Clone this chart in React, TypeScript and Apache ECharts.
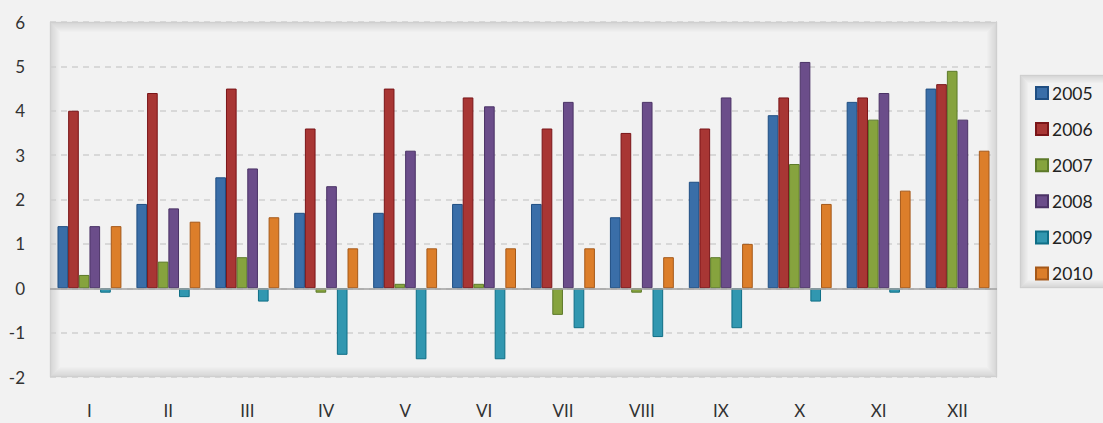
import React, { useEffect, useRef } from "react";
import * as echarts from "echarts";

const categories = ["I", "II", "III", "IV", "V", "VI", "VII", "VIII", "IX", "X", "XI", "XII"];
const seriesNames = ["2005", "2006", "2007", "2008", "2009", "2010"];
const v2005 = [1.4, 1.9, 2.5, 1.7, 1.7, 1.9, 1.9, 1.6, 2.4, 3.9, 4.2, 4.5];
const v2006 = [4.0, 4.4, 4.5, 3.6, 4.5, 4.3, 3.6, 3.5, 3.6, 4.3, 4.3, 4.6];
const v2007 = [0.3, 0.6, 0.7, -0.1, 0.1, 0.1, -0.6, -0.1, 0.7, 2.8, 3.8, 4.9];
const v2008 = [1.4, 1.8, 2.7, 2.3, 3.1, 4.1, 4.2, 4.2, 4.3, 5.1, 4.4, 3.8];
const v2009 = [-0.1, -0.2, -0.3, -1.5, -1.6, -1.6, -0.9, -1.1, -0.9, -0.3, -0.1, null];
const v2010 = [1.4, 1.5, 1.6, 0.9, 0.9, 0.9, 0.9, 0.7, 1.0, 1.9, 2.2, 3.1];
const allValues = [v2005, v2006, v2007, v2008, v2009, v2010];

const fills = ["#3a6ea8", "#a83634", "#86a33e", "#6b4d8a", "#3197b0", "#dc7e2a"];
const borders = ["#1f4e82", "#7a1518", "#5d7a2a", "#4b3366", "#0f6e86", "#a5591a"];

const FONT = "Lato, 'Open Sans', sans-serif";

function insetBox(x: number, y: number, w: number, h: number, steps: number, start: number, z: number) {
  const out: any[] = [];
  out.push({
    type: "rect",
    silent: true,
    z,
    shape: { x, y, width: w, height: h },
    style: { fill: "#f2f2f2", stroke: "#e6e6e6", lineWidth: 1 },
  });
  for (let i = 0; i < steps; i++) {
    const a = start * (1 - i / steps);
    out.push({
      type: "rect",
      silent: true,
      z,
      shape: { x: x + i + 0.5, y: y + i + 0.5, width: w - 2 * i - 1, height: h - 2 * i - 1 },
      style: { fill: "none", stroke: `rgba(0,0,0,${a.toFixed(3)})`, lineWidth: 1 },
    });
  }
  return out;
}

export default function App() {
  const ref = useRef<HTMLDivElement>(null);
  useEffect(() => {
    if (!ref.current) return;
    const chart = echarts.init(ref.current, undefined, { renderer: "svg" });
    const gl = 50, gt = 22, gr = 997, gb = 377;
    const graphics = [
      ...insetBox(gl, gt, gr - gl, gb - gt, 10, 0.12, 1),
      ...insetBox(1020, 75, 100, 213, 8, 0.12, 3),
    ];
    chart.setOption({
      animation: false,
      backgroundColor: "#f2f2f2",
      textStyle: { fontFamily: FONT },
      graphic: graphics,
      grid: {
        left: gl,
        top: gt,
        right: 1103 - gr,
        bottom: 423 - gb,
        show: false,
      },
      legend: {
        orient: "vertical",
        left: 1020,
        top: 75,
        padding: [9, 20, 9, 15],
        itemWidth: 12,
        itemHeight: 12,
        itemGap: 18.1,
        backgroundColor: "transparent",
        textStyle: { fontSize: 17.5, color: "#222", fontFamily: FONT, padding: [0, 0, 0, -1] },
        data: seriesNames.map((n) => ({ name: n, icon: "rect" })),
      },
      xAxis: {
        type: "category",
        data: categories,
        axisLine: { show: false, onZero: false },
        axisTick: { show: false },
        axisLabel: { margin: 25, fontSize: 17, color: "#333", fontFamily: FONT },
        splitLine: { show: false },
      },
      yAxis: {
        type: "value",
        min: -2,
        max: 6,
        interval: 1,
        axisLine: { show: false },
        axisTick: { show: false },
        axisLabel: { margin: 25, fontSize: 17, color: "#333", fontFamily: FONT },
        splitLine: {
          show: true,
          lineStyle: { color: "#cfcfcf", type: [6, 5], width: 1.5 },
        },
        z: 2,
      },
      series: seriesNames.map((name, i) => ({
        name,
        type: "bar",
        data: allValues[i],
        barGap: "0%",
        barCategoryGap: "19%",
        z: 4,
        itemStyle: { color: fills[i], borderColor: borders[i], borderWidth: 1 },
        ...(i === 0
          ? {
              markLine: {
                silent: true,
                symbol: "none",
                label: { show: false },
                lineStyle: { color: "#a0a0a0", type: "solid", width: 1.5 },
                data: [{ yAxis: 0 }],
                z: 10,
              },
            }
          : {}),
      })),
    });
    return () => chart.dispose();
  }, []);
  return <div ref={ref} style={{ width: 1103, height: 423, position: "absolute", left: 0, top: 0 }} />;
}
